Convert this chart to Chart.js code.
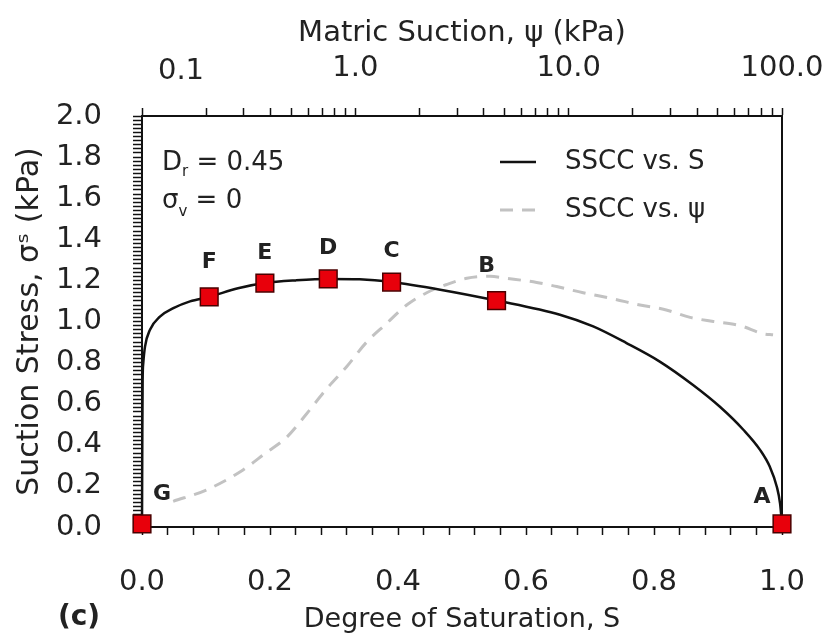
<!DOCTYPE html>
<html>
<head>
<meta charset="utf-8">
<script src="https://cdn.jsdelivr.net/npm/chart.js@4.4.1/dist/chart.umd.min.js"></script>
<style>
  html, body { margin: 0; padding: 0; background: #fff; }
  canvas { display: block; }
</style>
</head>
<body>
<canvas id="ssccChart" width="833" height="639"></canvas>
<script>
// SSCC against degree of saturation (bottom axis)
const satValues   = [0, 0.0005, 0.001, 0.002, 0.0047, 0.0125, 0.028, 0.049, 0.075, 0.105, 0.15, 0.192, 0.24, 0.291, 0.34, 0.39, 0.466, 0.554, 0.653, 0.705, 0.757, 0.809, 0.861, 0.903, 0.94, 0.966, 0.981, 0.992, 0.997, 1.0];
const stressVsSat = [0.015, 0.45, 0.716, 0.797, 0.878, 0.96, 1.024, 1.065, 1.098, 1.12, 1.162, 1.187, 1.2, 1.207, 1.205, 1.192, 1.155, 1.102, 1.033, 0.976, 0.895, 0.805, 0.691, 0.585, 0.472, 0.374, 0.293, 0.195, 0.114, 0.015];

// SSCC against matric suction (top log axis, kPa)
const suctionValues   = [0.14, 0.2, 0.29, 0.38, 0.48, 0.59, 0.73, 0.91, 1.13, 1.4, 1.74, 2.16, 2.68, 3.33, 4.28, 5.13, 7.08, 8.79, 11.7, 16.2, 21.6, 27.8, 37.1, 47.7, 63.6, 81.8, 90.8];
const stressVsSuction = [0.125, 0.18, 0.27, 0.36, 0.44, 0.55, 0.67, 0.78, 0.9, 0.99, 1.08, 1.14, 1.18, 1.21, 1.22, 1.21, 1.19, 1.17, 1.14, 1.11, 1.08, 1.06, 1.02, 1.0, 0.98, 0.94, 0.935];

// labelled states A-G on the S curve
const markerLabels = ['G', 'F', 'E', 'D', 'C', 'B', 'A'];
const markerSat    = [0, 0.105, 0.192, 0.291, 0.39, 0.554, 1.0];
const markerStress = [0.015, 1.12, 1.187, 1.207, 1.192, 1.102, 0.015];
const markerLabelOffsets = [[20, -30], [0, -35], [0, -30], [0, -31], [0, -31], [-10, -34], [-20, -27]];

// top axis labels (decades)
const suctionTicks = [0.1, 1, 10, 100];

const seriesNames = ['SSCC vs. S', 'SSCC vs. \u03c8'];

const toPoints = (xs, ys) => xs.map((x, i) => ({ x: x, y: ys[i] }));

const FONT = '"DejaVu Sans", sans-serif';
const INK = '#222';
Chart.defaults.font.family = FONT;
Chart.defaults.color = INK;

function drawSub(ctx, main, sub, rest, x, y, subDy) {
  ctx.font = '26px ' + FONT;
  ctx.textAlign = 'left';
  ctx.fillText(main, x, y);
  let w = ctx.measureText(main).width;
  ctx.font = '15px ' + FONT;
  ctx.fillText(sub, x + w, y + subDy);
  w += ctx.measureText(sub).width;
  ctx.font = '26px ' + FONT;
  ctx.fillText(rest, x + w, y);
}

// keep the plot box fixed: no extra room for the end labels
function noSidePadding(s) {
  s.paddingLeft = 0;
  s.paddingRight = 0;
}

const textPlugin = {
  id: 'chartText',
  afterDraw(chart) {
    const ctx = chart.ctx;
    ctx.save();
    ctx.fillStyle = INK;
    ctx.textBaseline = 'middle';

    // letters over the state markers
    const meta = chart.getDatasetMeta(2);
    ctx.font = 'bold 22px ' + FONT;
    ctx.textAlign = 'center';
    meta.data.forEach((pt, i) => {
      const off = markerLabelOffsets[i];
      ctx.fillText(markerLabels[i], pt.x + off[0], pt.y + off[1]);
    });

    // first decade label sits clear of the y axis
    const top = chart.scales.x2;
    ctx.font = '29px ' + FONT;
    ctx.textBaseline = 'bottom';
    ctx.fillText(suctionTicks[0].toFixed(1), top.getPixelForValue(suctionTicks[0]) + 39, top.bottom - 8 - 22);
    ctx.textBaseline = 'middle';

    // test conditions
    drawSub(ctx, 'D', 'r', ' = 0.45', 162, 163, 9);
    drawSub(ctx, '\u03c3', 'v', ' = 0', 162, 201, 11);

    // legend inside the plot
    [0, 1].forEach((di, row) => {
      const ds = chart.data.datasets[di];
      const y = 162 + row * 48;
      ctx.strokeStyle = ds.borderColor;
      ctx.lineWidth = ds.borderWidth;
      ctx.setLineDash(ds.borderDash || []);
      ctx.beginPath();
      ctx.moveTo(500, y);
      ctx.lineTo(536, y);
      ctx.stroke();
      ctx.setLineDash([]);
      ctx.font = '26px ' + FONT;
      ctx.textAlign = 'left';
      ctx.fillText(ds.label, 565, y);
    });

    // panel tag
    ctx.font = 'bold 28px ' + FONT;
    ctx.textAlign = 'center';
    ctx.fillText('(c)', 79, 618);
    ctx.restore();
  }
};

const isMultiple = (v, step) => Math.abs(v / step - Math.round(v / step)) < 1e-6;

new Chart(document.getElementById('ssccChart'), {
  type: 'scatter',
  data: {
    datasets: [
      {
        label: seriesNames[0],
        data: toPoints(satValues, stressVsSat),
        xAxisID: 'x', yAxisID: 'y',
        showLine: true,
        borderColor: '#111',
        borderWidth: 2.5,
        pointRadius: 0,
        cubicInterpolationMode: 'monotone',
        clip: false,
        order: 1
      },
      {
        label: seriesNames[1],
        data: toPoints(suctionValues, stressVsSuction),
        xAxisID: 'x2', yAxisID: 'y',
        showLine: true,
        borderColor: '#c2c2c2',
        borderWidth: 3,
        borderDash: [13, 9],
        pointRadius: 0,
        cubicInterpolationMode: 'monotone',
        order: 2
      },
      {
        label: 'states',
        data: toPoints(markerSat, markerStress),
        xAxisID: 'x', yAxisID: 'y',
        showLine: false,
        pointStyle: 'rect',
        pointRadius: 12.5,
        pointHoverRadius: 12.5,
        backgroundColor: '#e8000b',
        borderColor: '#4a0000',
        borderWidth: 1.5,
        clip: false,
        order: 0
      }
    ]
  },
  options: {
    responsive: false,
    animation: false,
    events: [],
    layout: { padding: 0 },
    plugins: {
      legend: { display: false },
      tooltip: { enabled: false }
    },
    scales: {
      x: {
        type: 'linear',
        position: 'bottom',
        min: 0, max: 1,
        afterFit(s) { s.height = 112; noSidePadding(s); },
        border: { color: '#111', width: 2 },
        grid: { drawOnChartArea: false, tickLength: 8, tickColor: '#111', tickWidth: 1.5 },
        ticks: {
          stepSize: 0.04, autoSkip: false, maxRotation: 0, padding: 30,
          font: { size: 29 },
          callback: v => isMultiple(v, 0.2) ? v.toFixed(1) : ''
        },
        title: { display: true, text: 'Degree of Saturation, S', font: { size: 27 }, padding: { top: 0, bottom: 3 } }
      },
      x2: {
        type: 'logarithmic',
        position: 'top',
        min: 0.1, max: 100,
        afterFit(s) { s.height = 116; noSidePadding(s); },
        afterBuildTicks(s) {
          s.ticks = s.ticks.filter(t => {
            const m = t.value / Math.pow(10, Math.floor(Math.log10(t.value) + 1e-9));
            return Math.abs(m - Math.round(m)) < 1e-6;
          });
        },
        border: { color: '#111', width: 2 },
        grid: { drawOnChartArea: false, tickLength: 8, tickColor: '#111', tickWidth: 1.5 },
        ticks: {
          autoSkip: false, maxRotation: 0, padding: 22,
          font: { size: 29 },
          callback: v => {
            const i = suctionTicks.findIndex(t => Math.abs(t - v) < 1e-9);
            return i > 0 ? v.toFixed(1) : '';
          }
        },
        title: { display: true, text: 'Matric Suction, \u03c8 (kPa)', font: { size: 29 }, padding: { top: 16, bottom: 0 } }
      },
      y: {
        type: 'linear',
        position: 'left',
        min: 0, max: 2,
        afterFit(s) { s.width = 142; },
        border: { color: '#111', width: 2 },
        grid: { drawOnChartArea: false, tickLength: 9, tickColor: '#111', tickWidth: 1.5 },
        ticks: {
          stepSize: 0.02, maxTicksLimit: 200, autoSkip: false, padding: 31,
          font: { size: 29 },
          callback: v => isMultiple(v, 0.2) ? v.toFixed(1) : ''
        },
        title: { display: true, text: 'Suction Stress, \u03c3\u02e2 (kPa)', font: { size: 30 }, padding: { top: 12, bottom: 0 } }
      },
      y2: {
        type: 'linear',
        position: 'right',
        min: 0, max: 2,
        afterFit(s) { s.width = 51; },
        border: { color: '#111', width: 2 },
        grid: { drawOnChartArea: false, drawTicks: false },
        ticks: { display: false }
      }
    }
  },
  plugins: [textPlugin]
});
</script>
</body>
</html>
